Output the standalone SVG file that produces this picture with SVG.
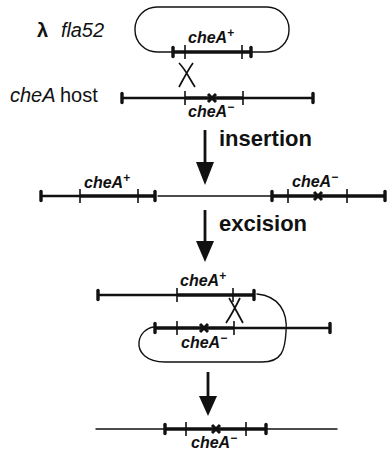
<svg xmlns="http://www.w3.org/2000/svg" width="387" height="455" viewBox="0 0 387 455">
<style>
.bg{fill:#fff}
.thin{stroke:#111;stroke-width:1.4;fill:none;stroke-linecap:round}
.med{stroke:#111;stroke-width:2.6;fill:none}
.bold{stroke:#111;stroke-width:3.6;fill:none}
.tick{stroke:#111;stroke-width:1.6;fill:none}
.cap{stroke:#111;stroke-width:3.4;fill:none;stroke-linecap:round}
.mut{stroke:#111;stroke-width:3;fill:none}
.chi{stroke:#111;stroke-width:1.7;fill:none}
.lbl{font-family:"Liberation Sans",Arial,sans-serif;font-weight:bold;font-style:italic;font-size:16px;fill:#111}
.sup{font-size:12px;font-style:normal}
.big{font-family:"Liberation Sans",Arial,sans-serif;font-size:20px;fill:#111}
.step{font-family:"Liberation Sans",Arial,sans-serif;font-weight:bold;font-size:22px;fill:#111}
.arrow{stroke:#111;stroke-width:2.8;fill:none}
.head{fill:#111}
</style>
<defs>
<path id="cap" class="cap" d="M0,-4.5 V4.5"/>
<path id="tk" class="tick" d="M0,-7 V7"/>
<path id="mx" class="mut" d="M-4,-4 L4,4 M4,-4 L-4,4"/>
</defs>
<rect class="bg" x="0" y="0" width="387" height="455"/>

<g id="lambda-phage">
<text class="big" x="37" y="37" font-size="18" font-weight="bold">λ</text>
<text class="big" x="61" y="37" font-size="17" font-style="italic" textLength="43">fla52</text>
<rect class="thin" x="135" y="7" width="154" height="45" rx="22" ry="22"/>
<path class="bold" d="M173,52 H251"/>
<use href="#cap" x="173" y="52"/>
<use href="#tk" x="185" y="52"/>
<use href="#tk" x="242" y="52"/>
<use href="#cap" x="251" y="52"/>
<text class="lbl" x="188" y="43">cheA<tspan class="sup" dy="-6">+</tspan></text>
</g>

<g id="crossover-1">
<path class="chi" d="M179,63 C186,70 189,78 195,87 M193,63 C188,70 184,78 179,87"/>
</g>

<g id="host">
<text class="big" x="10" y="102" font-size="19" font-style="italic">cheA</text>
<text class="big" x="60" y="102" font-size="22">host</text>
<path class="med" d="M122,98 H185 M243,98 H313"/>
<path class="bold" d="M185,98 H243"/>
<use href="#cap" x="122" y="98"/>
<use href="#tk" x="185" y="98"/>
<use href="#mx" x="212" y="98"/>
<use href="#tk" x="243" y="98"/>
<use href="#cap" x="313" y="98"/>
<text class="lbl" x="188" y="117">cheA<tspan class="sup" dy="-6">−</tspan></text>
</g>

<g id="cointegrate">
<path class="med" d="M41,196 H80"/>
<path class="bold" d="M80,196 H155"/>
<path class="thin" d="M158,196 H271"/>
<path class="bold" d="M272,196 H386"/>
<use href="#cap" x="41" y="196"/>
<use href="#tk" x="80" y="196"/>
<use href="#tk" x="138" y="196"/>
<use href="#cap" x="155" y="196"/>
<use href="#cap" x="272" y="196"/>
<use href="#tk" x="288" y="196"/>
<use href="#mx" x="318" y="196"/>
<use href="#tk" x="347" y="196"/>
<use href="#cap" x="385" y="196"/>
<text class="lbl" x="84" y="188">cheA<tspan class="sup" dy="-6">+</tspan></text>
<text class="lbl" x="292" y="187">cheA<tspan class="sup" dy="-6">−</tspan></text>
</g>

<g id="excision-intermediate">
<path class="thin" d="M257,294 C279,296 288,312 286,332 C285,350 282,362 262,362 L165,362 C146,362 138,352 139,342 C140,334 146,328 154,327"/>
<path class="med" d="M98,295 H177"/>
<path class="bold" d="M177,295 H254"/>
<use href="#cap" x="98" y="295"/>
<use href="#tk" x="177" y="295"/>
<use href="#tk" x="233" y="295"/>
<use href="#cap" x="254" y="295"/>
<text class="lbl" x="180" y="286">cheA<tspan class="sup" dy="-6">+</tspan></text>
<path d="M240,328 H283" stroke="#fff" stroke-width="5"/>
<path class="bold" d="M155,328 H234"/>
<path class="med" d="M234,328 H330"/>
<use href="#cap" x="155" y="328"/>
<use href="#tk" x="177" y="328"/>
<use href="#mx" x="204" y="328"/>
<use href="#tk" x="234" y="328"/>
<use href="#cap" x="330" y="328"/>
<text class="lbl" x="181" y="348">cheA<tspan class="sup" dy="-6">−</tspan></text>
</g>

<g id="crossover-2">
<path class="chi" d="M229,298 C234,306 238,314 243,323 M240,298 C236,306 232,314 226,323"/>
</g>

<g id="product">
<path class="thin" d="M96,429 H165 M267,429 H337"/>
<path class="bold" d="M165,429 H266"/>
<use href="#cap" x="165" y="429"/>
<use href="#tk" x="186" y="429"/>
<use href="#mx" x="216" y="429"/>
<use href="#tk" x="246" y="429"/>
<use href="#cap" x="266" y="429"/>
<text class="lbl" x="191" y="448">cheA<tspan class="sup" dy="-6">−</tspan></text>
</g>

<g id="connectors">
<path class="arrow" d="M205,130 V166"/>
<path class="head" d="M196,162 L214,162 L205,185 Z"/>
<text class="step" x="219" y="146">insertion</text>
<path class="arrow" d="M205,210 V245"/>
<path class="head" d="M196,241 L214,241 L205,262 Z"/>
<text class="step" x="219" y="231" font-size="21.5">excision</text>
<path class="arrow" d="M208,372 V400"/>
<path class="head" d="M199,396 L217,396 L208,416 Z"/>
</g>
</svg>
